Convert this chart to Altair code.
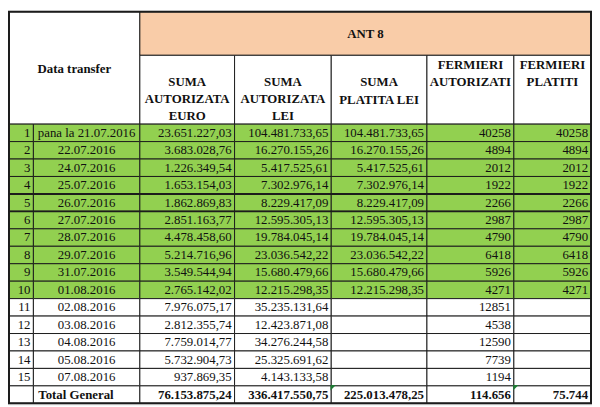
import altair as alt
import pandas as pd

row_numbers = list(range(1, 16))
dates = ["pana la 21.07.2016", "22.07.2016", "24.07.2016", "25.07.2016", "26.07.2016",
         "27.07.2016", "28.07.2016", "29.07.2016", "31.07.2016", "01.08.2016",
         "02.08.2016", "03.08.2016", "04.08.2016", "05.08.2016", "07.08.2016"]
suma_autorizata_euro = [23651227.03, 3683028.76, 1226349.54, 1653154.03, 1862869.83,
                        2851163.77, 4478458.60, 5214716.96, 3549544.94, 2765142.02,
                        7976075.17, 2812355.74, 7759014.77, 5732904.73, 937869.35]
suma_autorizata_lei = [104481733.65, 16270155.26, 5417525.61, 7302976.14, 8229417.09,
                       12595305.13, 19784045.14, 23036542.22, 15680479.66, 12215298.35,
                       35235131.64, 12423871.08, 34276244.58, 25325691.62, 4143133.58]
suma_platita_lei = [104481733.65, 16270155.26, 5417525.61, 7302976.14, 8229417.09,
                    12595305.13, 19784045.14, 23036542.22, 15680479.66, 12215298.35,
                    None, None, None, None, None]
fermieri_autorizati = [40258, 4894, 2012, 1922, 2266, 2987, 4790, 6418, 5926, 4271,
                       12851, 4538, 12590, 7739, 1194]
fermieri_platiti = [40258, 4894, 2012, 1922, 2266, 2987, 4790, 6418, 5926, 4271,
                    None, None, None, None, None]
total_label = "Total General"
totals = [76153875.24, 336417550.75, 225013478.25, 114656, 75744]
group_title = "ANT 8"
stub_title = "Data transfer"
column_titles = [["SUMA", "AUTORIZATA", "EURO"],
                 ["SUMA", "AUTORIZATA", "LEI"],
                 ["SUMA", "PLATITA LEI"],
                 ["FERMIERI", "AUTORIZATI"],
                 ["FERMIERI", "PLATITI"]]
highlighted_rows = 10

# ---------------- layout / style ----------------
COL_EDGES = [2, 27, 136, 233, 332, 430, 519, 598]
Y_TOP, Y_BAND, Y_HEAD = 2, 47, 118
ROW_H = 18
HEADER_LINE_Y = [[75, 92, 110], [75, 92, 110], [75, 93], [57, 75], [57, 75]]
GREEN = "#92D050"
PEACH = "#F9CCA8"
LINE = "#1c1c1c"
FONT = "Liberation Serif"
FS = 13


def ro_money(v):
    s = f"{v:,.2f}"
    return s.replace(",", "X").replace(".", ",").replace("X", ".")


def ro_int(v):
    return f"{int(v):,}".replace(",", ".")


n_rows = len(dates)
row_top = [Y_HEAD + ROW_H * i for i in range(n_rows + 1)]
row_mid = [t + ROW_H / 2 for t in row_top]

cells, t_center, t_right, t_left, t_bold_c, t_bold_r = [], [], [], [], [], []

# header cells
cells.append(dict(x0=COL_EDGES[0], x1=COL_EDGES[2], y0=Y_TOP, y1=Y_HEAD, fill="white"))
cells.append(dict(x0=COL_EDGES[2], x1=COL_EDGES[-1], y0=Y_TOP, y1=Y_BAND, fill=PEACH))
for c in range(5):
    cells.append(dict(x0=COL_EDGES[c + 2], x1=COL_EDGES[c + 3], y0=Y_BAND, y1=Y_HEAD, fill="white"))
    for line, yy in zip(column_titles[c], HEADER_LINE_Y[c]):
        t_bold_c.append(dict(x=(COL_EDGES[c + 2] + COL_EDGES[c + 3]) / 2, y=yy, t=line))
t_bold_c.append(dict(x=(COL_EDGES[0] + COL_EDGES[2]) / 2, y=61, t=stub_title))
t_bold_c.append(dict(x=(COL_EDGES[2] + COL_EDGES[-1]) / 2, y=25, t=group_title))

# body
columns = [suma_autorizata_euro, suma_autorizata_lei, suma_platita_lei,
           fermieri_autorizati, fermieri_platiti]
for i in range(n_rows):
    fill = GREEN if i < highlighted_rows else "white"
    for c in range(7):
        cells.append(dict(x0=COL_EDGES[c], x1=COL_EDGES[c + 1], y0=row_top[i], y1=row_top[i + 1], fill=fill))
    t_right.append(dict(x=COL_EDGES[1] - 3, y=row_mid[i], t=str(row_numbers[i])))
    t_center.append(dict(x=(COL_EDGES[1] + COL_EDGES[2]) / 2, y=row_mid[i], t=dates[i]))
    for c, col in enumerate(columns):
        v = col[i]
        if v is None:
            continue
        txt = ro_money(v) if c < 3 else str(int(v))
        t_right.append(dict(x=COL_EDGES[c + 3] - 3, y=row_mid[i], t=txt))

# total row
i = n_rows
for c in range(7):
    cells.append(dict(x0=COL_EDGES[c], x1=COL_EDGES[c + 1], y0=row_top[i], y1=row_top[i] + ROW_H, fill="white"))
t_left.append(dict(x=COL_EDGES[1] + 5, y=row_mid[i], t=total_label))
for c, v in enumerate(totals):
    txt = ro_money(v) if c < 3 else ro_int(v)
    t_bold_r.append(dict(x=COL_EDGES[c + 3] - 3, y=row_mid[i], t=txt))

table_bottom = row_top[i] + ROW_H
flags = pd.DataFrame([dict(x=COL_EDGES[4] + 2, y=row_top[i] + 2),
                      dict(x=COL_EDGES[6] + 2, y=row_top[i] + 2)])
thick = pd.DataFrame([dict(x0=COL_EDGES[0], x1=COL_EDGES[-1], y=row_top[4]),
                      dict(x0=COL_EDGES[0], x1=COL_EDGES[-1], y=row_top[5])])
outer = pd.DataFrame([dict(x0=COL_EDGES[0], x1=COL_EDGES[-1], y0=Y_TOP, y1=table_bottom)])

W, H = 592, 399
xs = alt.Scale(domain=[COL_EDGES[0], COL_EDGES[-1]], range=[1, W - 1], nice=False, zero=False)
ys = alt.Scale(domain=[Y_TOP, table_bottom], range=[1, H - 1], nice=False, zero=False)

rects = alt.Chart(pd.DataFrame(cells)).mark_rect(stroke=LINE, strokeWidth=1).encode(
    x=alt.X("x0:Q", scale=xs, axis=None), x2="x1:Q",
    y=alt.Y("y0:Q", scale=ys, axis=None), y2="y1:Q",
    fill=alt.Fill("fill:N", scale=None))

rules = alt.Chart(thick).mark_rule(color=LINE, strokeWidth=2).encode(
    x=alt.X("x0:Q", scale=xs, axis=None), x2="x1:Q",
    y=alt.Y("y:Q", scale=ys, axis=None))

border = alt.Chart(outer).mark_rect(fill=None, stroke=LINE, strokeWidth=2, fillOpacity=0).encode(
    x=alt.X("x0:Q", scale=xs, axis=None), x2="x1:Q",
    y=alt.Y("y0:Q", scale=ys, axis=None), y2="y1:Q")


def text_layer(rows, align, bold=False):
    return alt.Chart(pd.DataFrame(rows)).mark_text(
        align=align, baseline="middle", font=FONT, fontSize=FS,
        fontWeight="bold" if bold else "normal", color="#111111").encode(
        x=alt.X("x:Q", scale=xs, axis=None),
        y=alt.Y("y:Q", scale=ys, axis=None),
        text="t:N")


flag_layer = alt.Chart(flags).mark_point(
    shape="M-1,-1L1,-1L-1,1Z", filled=True, color="#1E7B34", size=30, opacity=1).encode(
    x=alt.X("x:Q", scale=xs, axis=None), y=alt.Y("y:Q", scale=ys, axis=None))

chart = alt.layer(
    rects, rules, border,
    text_layer(t_center, "center"),
    text_layer(t_right, "right"),
    text_layer(t_left, "left", bold=True),
    text_layer(t_bold_c, "center", bold=True),
    text_layer(t_bold_r, "right", bold=True),
    flag_layer,
).properties(
    width=W, height=H, autosize=alt.AutoSizeParams(type="none"), padding=0
).configure_view(stroke=None).configure(background="white")

chart.save("out.html", embed_options={"renderer": "svg", "actions": False})
